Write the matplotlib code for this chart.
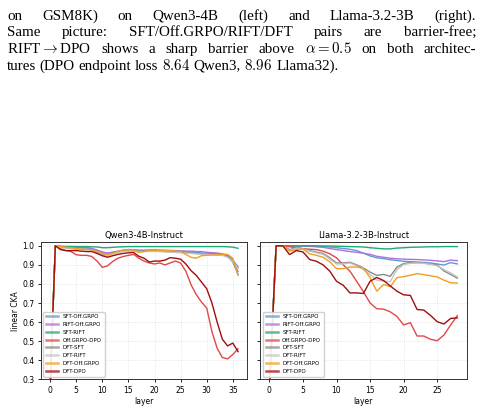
import numpy as np
import matplotlib
matplotlib.use("Agg")
import matplotlib.pyplot as plt

plt.rcParams["mathtext.fontset"] = "cm"

# ---- data -------------------------------------------------------------
pair_labels = ["SFT-Off.GRPO", "RIFT-Off.GRPO", "SFT-RIFT", "Off.GRPO-DPO",
               "DFT-SFT", "DFT-RIFT", "DFT-Off.GRPO", "DFT-DPO"]
pair_colors = ["#5a9fcc", "#b070e0", "#20a97b", "#e04848",
               "#8a8a8a", "#c4c4c4", "#f0a020", "#a00d0d"]

qwen_title = "Qwen3-4B-Instruct"
qwen_layers = np.arange(37)
qwen_cka = {
    "SFT-Off.GRPO": [0.25, 1.0, 0.995, 0.993, 0.99, 0.99, 0.99, 0.99, 0.985, 0.975, 0.965, 0.96, 0.965,
                     0.97, 0.975, 0.978, 0.978, 0.975, 0.975, 0.977, 0.977, 0.976, 0.975, 0.975, 0.974,
                     0.972, 0.97, 0.968, 0.965, 0.963, 0.96, 0.96, 0.958, 0.955, 0.945, 0.915, 0.85],
    "RIFT-Off.GRPO": [0.25, 1.0, 0.996, 0.994, 0.992, 0.991, 0.99, 0.99, 0.986, 0.978, 0.968, 0.962, 0.967,
                      0.972, 0.977, 0.98, 0.98, 0.977, 0.977, 0.978, 0.978, 0.977, 0.976, 0.975, 0.975,
                      0.973, 0.972, 0.972, 0.97, 0.97, 0.966, 0.964, 0.962, 0.958, 0.95, 0.925, 0.865],
    "SFT-RIFT": [0.25, 1.0, 0.998, 0.997, 0.997, 0.996, 0.996, 0.996, 0.995, 0.994, 0.99, 0.99, 0.992,
                 0.994, 0.995, 0.996, 0.996, 0.996, 0.996, 0.996, 0.996, 0.996, 0.996, 0.996, 0.996,
                 0.996, 0.996, 0.996, 0.996, 0.996, 0.996, 0.996, 0.996, 0.996, 0.995, 0.993, 0.987],
    "Off.GRPO-DPO": [0.25, 1.0, 0.985, 0.975, 0.97, 0.953, 0.95, 0.95, 0.944, 0.92, 0.887, 0.895, 0.918,
                     0.935, 0.944, 0.95, 0.955, 0.935, 0.92, 0.91, 0.905, 0.91, 0.90, 0.91, 0.92,
                     0.91, 0.867, 0.796, 0.744, 0.705, 0.674, 0.55, 0.463, 0.414, 0.407, 0.43, 0.46],
    "DFT-SFT": [0.25, 1.0, 0.993, 0.99, 0.988, 0.985, 0.985, 0.984, 0.98, 0.965, 0.955, 0.95, 0.96,
                0.968, 0.973, 0.975, 0.975, 0.972, 0.972, 0.973, 0.973, 0.972, 0.97, 0.97, 0.968,
                0.967, 0.965, 0.962, 0.96, 0.958, 0.957, 0.955, 0.955, 0.952, 0.945, 0.925, 0.89],
    "DFT-RIFT": [0.25, 1.0, 0.992, 0.989, 0.987, 0.984, 0.983, 0.982, 0.978, 0.962, 0.952, 0.947, 0.957,
                 0.965, 0.97, 0.972, 0.972, 0.97, 0.97, 0.971, 0.971, 0.97, 0.968, 0.967, 0.965,
                 0.964, 0.962, 0.96, 0.958, 0.956, 0.955, 0.953, 0.952, 0.95, 0.94, 0.92, 0.88],
    "DFT-Off.GRPO": [0.25, 1.0, 0.995, 0.993, 0.99, 0.985, 0.982, 0.98, 0.98, 0.972, 0.96, 0.955, 0.962,
                     0.97, 0.978, 0.98, 0.98, 0.965, 0.97, 0.975, 0.975, 0.975, 0.975, 0.975, 0.972,
                     0.97, 0.955, 0.94, 0.935, 0.948, 0.95, 0.952, 0.952, 0.955, 0.955, 0.935, 0.845],
    "DFT-DPO": [0.25, 1.0, 0.98, 0.975, 0.975, 0.975, 0.972, 0.97, 0.97, 0.96, 0.948, 0.94, 0.948,
                0.955, 0.96, 0.963, 0.965, 0.945, 0.935, 0.915, 0.92, 0.92, 0.925, 0.938, 0.935,
                0.93, 0.905, 0.87, 0.845, 0.81, 0.775, 0.70, 0.60, 0.51, 0.475, 0.49, 0.445],
}

llama_title = "Llama-3.2-3B-Instruct"
llama_layers = np.arange(29)
llama_cka = {
    "SFT-Off.GRPO": [0.25, 1.0, 1.0, 1.0, 0.999, 0.999, 0.998, 0.997, 0.996, 0.994, 0.99, 0.986, 0.982,
                     0.975, 0.962, 0.947, 0.937, 0.933, 0.927, 0.923, 0.919, 0.917, 0.915, 0.913, 0.91,
                     0.905, 0.899, 0.912, 0.905],
    "RIFT-Off.GRPO": [0.25, 1.0, 1.0, 1.0, 0.999, 0.998, 0.997, 0.995, 0.992, 0.986, 0.98, 0.975, 0.97,
                      0.966, 0.961, 0.955, 0.945, 0.94, 0.935, 0.932, 0.93, 0.929, 0.928, 0.926, 0.924,
                      0.921, 0.917, 0.925, 0.922],
    "SFT-RIFT": [0.25, 1.0, 1.0, 1.0, 1.0, 1.0, 1.0, 1.0, 0.999, 0.999, 0.998, 0.997, 0.996,
                 0.995, 0.994, 0.99, 0.987, 0.984, 0.984, 0.988, 0.99, 0.992, 0.993, 0.994, 0.995,
                 0.995, 0.996, 0.996, 0.996],
    "Off.GRPO-DPO": [0.25, 1.0, 1.0, 0.995, 0.99, 0.985, 0.982, 0.98, 0.972, 0.958, 0.937, 0.90, 0.867,
                     0.814, 0.76, 0.70, 0.67, 0.668, 0.654, 0.63, 0.585, 0.597, 0.527, 0.527, 0.51,
                     0.502, 0.532, 0.585, 0.634],
    "DFT-SFT": [0.25, 1.0, 1.0, 0.98, 0.99, 0.985, 0.975, 0.967, 0.96, 0.937, 0.91, 0.91, 0.914,
                0.90, 0.884, 0.862, 0.845, 0.85, 0.84, 0.888, 0.907, 0.912, 0.912, 0.91, 0.905,
                0.90, 0.868, 0.85, 0.83],
    "DFT-RIFT": [0.25, 1.0, 1.0, 0.975, 0.988, 0.983, 0.972, 0.963, 0.955, 0.93, 0.905, 0.905, 0.91,
                 0.895, 0.875, 0.85, 0.82, 0.815, 0.812, 0.875, 0.902, 0.908, 0.91, 0.908, 0.903,
                 0.895, 0.875, 0.858, 0.837],
    "DFT-Off.GRPO": [0.25, 1.0, 1.0, 0.972, 0.98, 0.984, 0.958, 0.95, 0.94, 0.916, 0.88, 0.88, 0.889,
                     0.889, 0.884, 0.832, 0.762, 0.797, 0.786, 0.833, 0.838, 0.846, 0.854, 0.849, 0.843,
                     0.837, 0.82, 0.806, 0.805],
    "DFT-DPO": [0.25, 1.0, 1.0, 0.954, 0.975, 0.968, 0.928, 0.919, 0.90, 0.867, 0.814, 0.793, 0.753,
                0.753, 0.75, 0.814, 0.834, 0.818, 0.79, 0.762, 0.743, 0.74, 0.666, 0.663, 0.635,
                0.602, 0.59, 0.619, 0.622],
}

caption_lines = [
    "on GSM8K) on Qwen3-4B (left) and Llama-3.2-3B (right).",
    "Same picture: SFT/Off.GRPO/RIFT/DFT pairs are barrier-free;",
    r"RIFT$\rightarrow$DPO shows a sharp barrier above $\alpha{=}0.5$ on both architec-",
    r"tures (DPO endpoint loss $8.64$ Qwen3, $8.96$ Llama32).",
]

# ---- figure -----------------------------------------------------------
W, H = 483, 411
fig = plt.figure(figsize=(W / 100, H / 100), dpi=100)
fig.patch.set_facecolor("white")

# caption text, justified like the paper
serif = ["Liberation Serif", "DejaVu Serif"]
cap_fs = 10.8
renderer = fig.canvas.get_renderer()
x_left, x_right = 7.0, 476.0
for i, line in enumerate(caption_lines):
    y_px = 19.5 + i * 16.7
    words = line.split(" ")
    texts = [fig.text(0, 1 - y_px / H, w, fontsize=cap_fs, family=serif, va="baseline")
             for w in words]
    widths = [t.get_window_extent(renderer).width for t in texts]
    if i < len(caption_lines) - 1:
        gap = (x_right - x_left - sum(widths)) / (len(words) - 1)
    else:
        gap = 3.6
    x = x_left
    for t, w in zip(texts, widths):
        t.set_x(x / W)
        x += w + gap

ax_w = 0.428
ax_b = 31.7 / H
ax_h = (379.3 - 242) / H
ax1 = fig.add_axes([40.7 / W, ax_b, ax_w, ax_h])
ax2 = fig.add_axes([260 / W, ax_b, ax_w, ax_h], sharey=ax1)

for ax, layers, data, title in [(ax1, qwen_layers, qwen_cka, qwen_title),
                                (ax2, llama_layers, llama_cka, llama_title)]:
    for lab, col in zip(pair_labels, pair_colors):
        ax.plot(layers, data[lab], color=col, lw=1.0, label=lab)
    ax.set_title(title, fontsize=6, pad=3)
    ax.set_xlabel("layer", fontsize=5.5, labelpad=2)
    ax.grid(True, ls=":", lw=0.5, color="#d8d8d8")
    ax.tick_params(labelsize=5.5, length=2.5, width=0.6, pad=2)
    for s in ax.spines.values():
        s.set_linewidth(0.7)
        s.set_color("#333333")
    leg = ax.legend(loc="lower left", fontsize=4, frameon=True, framealpha=0.9,
                    edgecolor="#cccccc", handlelength=2.2, borderpad=0.5)
    for ln in leg.get_lines():
        ln.set_linewidth(1.8)
        ln.set_alpha(0.75)

ax1.set_ylim(0.3, 1.02)
ax1.set_yticks([0.3, 0.4, 0.5, 0.6, 0.7, 0.8, 0.9, 1.0])
ax1.set_xticks(range(0, 36, 5))
ax2.set_xticks(range(0, 26, 5))
ax1.set_ylabel("linear CKA", fontsize=5.5, labelpad=2)
plt.setp(ax2.get_yticklabels(), visible=False)

fig.savefig("out.png", dpi=100)
